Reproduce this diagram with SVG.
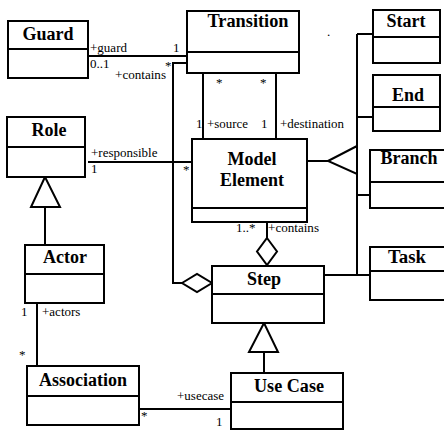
<svg xmlns="http://www.w3.org/2000/svg" width="444" height="434" viewBox="0 0 444 434">
<style>
.box{fill:#fff;stroke:#000;stroke-width:2}
.ln{fill:none;stroke:#000;stroke-width:2}
.hd{fill:#fff;stroke:#000;stroke-width:2}
.t{font-family:'Liberation Serif','DejaVu Serif',serif;font-weight:bold;font-size:18px;text-anchor:middle;fill:#000}
.s{font-family:'Liberation Serif','DejaVu Serif',serif;font-size:13px;fill:#000}
</style>
<rect width="444" height="434" fill="#fff"/>
<g id="connectors">
<path class="ln" d="M88,56 H187"/>
<path class="ln" d="M187,63 H173 V283 H182"/>
<polygon class="hd" points="182,283 197,274 212,283 197,292"/>
<path class="ln" d="M203,73 V139"/>
<path class="ln" d="M276,73 V139"/>
<path class="ln" d="M88,162 H192"/>
<path class="ln" d="M267,222 V238"/>
<polygon class="hd" points="267,238 277,251.5 267,265 257,251.5"/>
<path class="ln" d="M45,207 V245"/>
<polygon class="hd" points="45,177 31,207 60,207"/>
<path class="ln" d="M37,303 V366"/>
<path class="ln" d="M139,409 H231"/>
<path class="ln" d="M264,352 V373"/>
<polygon class="hd" points="264,323 249,352 278,352"/>
<path class="ln" d="M357,34 V275"/>
<path class="ln" d="M357,34 H373 M357,117 H373 M357,195 H370 M324,275 H370"/>
<path class="ln" d="M307,161 H328"/>
<polygon class="hd" points="328,161 357,146 357,174"/>
</g>
<g id="guard"><rect class="box" x="8" y="21" width="80" height="57"/><path class="ln" d="M8,49 H88"/><text class="t" x="48" y="40" textLength="51" lengthAdjust="spacingAndGlyphs">Guard</text></g>
<g id="transition"><rect class="box" x="187" y="11" width="112" height="62"/><path class="ln" d="M187,52 H299"/><text class="t" x="248" y="27" textLength="81" lengthAdjust="spacingAndGlyphs">Transition</text></g>
<g id="start"><rect class="box" x="373" y="10" width="67" height="53"/><path class="ln" d="M373,37 H440"/><text class="t" x="406" y="27" textLength="39" lengthAdjust="spacingAndGlyphs">Start</text></g>
<g id="end"><rect class="box" x="373" y="75" width="67" height="56"/><path class="ln" d="M373,107 H440"/><text class="t" x="408" y="101" textLength="32" lengthAdjust="spacingAndGlyphs">End</text></g>
<g id="role"><rect class="box" x="7" y="117" width="78" height="60"/><path class="ln" d="M7,147 H85"/><text class="t" x="49" y="136" textLength="35" lengthAdjust="spacingAndGlyphs">Role</text></g>
<g id="model-element"><rect class="box" x="192" y="139" width="115" height="83"/><path class="ln" d="M192,208 H307"/><text class="t" x="252" y="165" textLength="49" lengthAdjust="spacingAndGlyphs">Model</text><text class="t" x="252" y="186" textLength="64" lengthAdjust="spacingAndGlyphs">Element</text></g>
<g id="branch"><rect class="box" x="370" y="150" width="80" height="58"/><path class="ln" d="M370,182 H450"/><text class="t" x="409" y="164" textLength="57" lengthAdjust="spacingAndGlyphs">Branch</text></g>
<g id="task"><rect class="box" x="370" y="247" width="80" height="53"/><path class="ln" d="M370,271 H450"/><text class="t" x="407" y="263" textLength="38" lengthAdjust="spacingAndGlyphs">Task</text></g>
<g id="actor"><rect class="box" x="25" y="245" width="79" height="58"/><path class="ln" d="M25,274 H104"/><text class="t" x="65" y="263" textLength="44" lengthAdjust="spacingAndGlyphs">Actor</text></g>
<g id="step"><rect class="box" x="212" y="266" width="112" height="57"/><path class="ln" d="M212,294 H324"/><text class="t" x="264" y="285" textLength="34" lengthAdjust="spacingAndGlyphs">Step</text></g>
<g id="association"><rect class="box" x="27" y="366" width="112" height="59"/><path class="ln" d="M27,396 H139"/><text class="t" x="83" y="386" textLength="88" lengthAdjust="spacingAndGlyphs">Association</text></g>
<g id="use-case"><rect class="box" x="231" y="373" width="112" height="56"/><path class="ln" d="M231,402 H343"/><text class="t" x="289" y="392" textLength="70" lengthAdjust="spacingAndGlyphs">Use Case</text></g>
<g id="labels">
<text class="s" x="90" y="52" textLength="37" lengthAdjust="spacingAndGlyphs">+guard</text>
<text class="s" x="173" y="52">1</text>
<text class="s" x="90" y="68" textLength="19.5" lengthAdjust="spacingAndGlyphs">0..1</text>
<text class="s" x="165" y="70">*</text>
<text class="s" x="115" y="79" textLength="51" lengthAdjust="spacingAndGlyphs">+contains</text>
<text class="s" x="216" y="87">*</text>
<text class="s" x="260" y="87">*</text>
<text class="s" x="196" y="128">1</text>
<text class="s" x="207" y="128" textLength="41" lengthAdjust="spacingAndGlyphs">+source</text>
<text class="s" x="261" y="128">1</text>
<text class="s" x="280" y="128" textLength="64" lengthAdjust="spacingAndGlyphs">+destination</text>
<text class="s" x="91" y="157" textLength="66.5" lengthAdjust="spacingAndGlyphs">+responsible</text>
<text class="s" x="91" y="173">1</text>
<text class="s" x="183" y="174">*</text>
<text class="s" x="236" y="232" textLength="19.5" lengthAdjust="spacingAndGlyphs">1..*</text>
<text class="s" x="268" y="232" textLength="51" lengthAdjust="spacingAndGlyphs">+contains</text>
<text class="s" x="21" y="316">1</text>
<text class="s" x="42" y="316" textLength="38.4" lengthAdjust="spacingAndGlyphs">+actors</text>
<text class="s" x="19" y="359">*</text>
<text class="s" x="141" y="420">*</text>
<text class="s" x="177" y="400" textLength="47" lengthAdjust="spacingAndGlyphs">+usecase</text>
<text class="s" x="216" y="426">1</text>
<text class="s" x="327" y="36">.</text>
</g>
</svg>
